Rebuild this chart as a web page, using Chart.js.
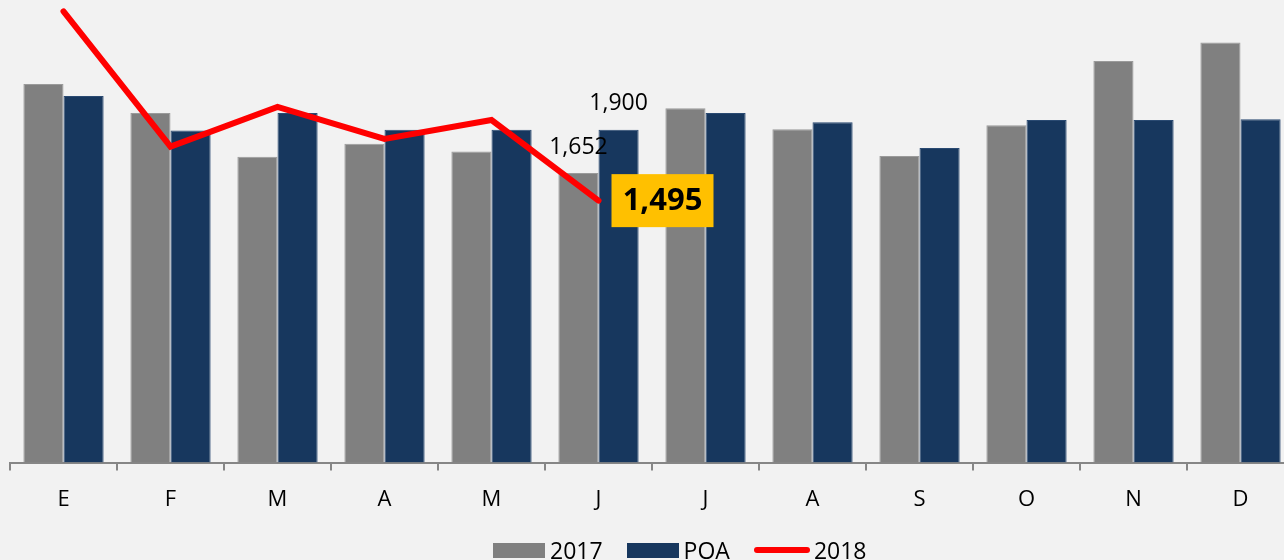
<!DOCTYPE html>
<html>
<head>
<meta charset="utf-8">
<script src="https://cdn.jsdelivr.net/npm/chart.js@4/dist/chart.umd.min.js"></script>
<style>
  html, body { margin: 0; padding: 0; background: #f2f2f2; overflow: hidden; }
  #wrap { position: relative; width: 1300px; height: 560px; }
  #leyenda {
    position: absolute; left: 493px; top: 534px;
    display: flex; align-items: center;
    font-family: "Open Sans", sans-serif; font-size: 23px; color: #000;
  }
  .caja { width: 52px; height: 15px; margin-right: 5px; }
  .linea { width: 56px; height: 6px; border-radius: 3px; background: #ff0000; margin-right: 4px; }
  .item { display: flex; align-items: center; margin-right: 24px; }
</style>
</head>
<body>
<div id="wrap">
  <canvas id="grafica" width="1300" height="560"></canvas>
  <div id="leyenda">
    <div class="item"><div class="caja" style="background:#808080"></div><span>2017</span></div>
    <div class="item"><div class="caja" style="background:#17375e"></div><span>POA</span></div>
    <div class="item"><div class="linea"></div><span>2018</span></div>
  </div>
</div>
<script>
const meses = ["E", "F", "M", "A", "M", "J", "J", "A", "S", "O", "N", "D"];
const ventas2017 = [2160, 1995, 1745, 1820, 1775, 1652, 2022, 1902, 1750, 1925, 2292, 2398];
const poa = [2092, 1895, 1995, 1900, 1900, 1900, 1995, 1942, 1796, 1955, 1955, 1960];
const ventas2018 = [2575, 1803, 2030, 1847, 1955, 1495];
const mesEtiqueta = 5; // junio

const fmt = v => v.toLocaleString("en-US");

// etiquetas de junio: sobre las barras y caja amarilla al final de la linea
const etiquetas = {
  id: "etiquetas",
  afterDatasetsDraw(chart) {
    const ctx = chart.ctx;
    ctx.save();
    ctx.textAlign = "center";
    ctx.textBaseline = "middle";
    ctx.fillStyle = "#000";
    ctx.font = "23px 'Open Sans', sans-serif";
    [0, 1].forEach(d => {
      const bar = chart.getDatasetMeta(d).data[mesEtiqueta];
      const valor = chart.data.datasets[d].data[mesEtiqueta];
      ctx.fillText(fmt(valor), bar.x, bar.y - 26);
    });

    const p = chart.getDatasetMeta(2).data[mesEtiqueta];
    const txt = fmt(ventas2018[mesEtiqueta]);
    ctx.font = "bold 31px 'Open Sans', sans-serif";
    const w = 102, h = 53;
    const x0 = p.x + 13;
    ctx.fillStyle = "#ffc000";
    ctx.fillRect(x0, p.y - h / 2, w, h);
    ctx.fillStyle = "#000";
    ctx.fillText(txt, x0 + w / 2, p.y + 1);
    ctx.restore();
  }
};

new Chart(document.getElementById("grafica"), {
  data: {
    labels: meses,
    datasets: [
      {
        type: "bar", label: "2017", data: ventas2017,
        backgroundColor: "#808080", borderColor: "#9a9a9a", borderWidth: 1,
        barPercentage: 1, categoryPercentage: 0.75, order: 2
      },
      {
        type: "bar", label: "POA", data: poa,
        backgroundColor: "#17375e", borderColor: "#2a4a72", borderWidth: 1,
        barPercentage: 1, categoryPercentage: 0.75, order: 2
      },
      {
        type: "line", label: "2018", data: ventas2018,
        borderColor: "#ff0000", borderWidth: 6, pointRadius: 0,
        borderCapStyle: "round", borderJoinStyle: "miter",
        tension: 0, clip: false, order: 1
      }
    ]
  },
  options: {
    responsive: false,
    animation: false,
    layout: { padding: { left: 10, right: 6, top: 0, bottom: 31 } },
    plugins: { legend: { display: false }, tooltip: { enabled: false } },
    scales: {
      x: {
        offset: true,
        grid: { display: true, drawOnChartArea: false, drawTicks: true, tickLength: 8, color: "#868686", lineWidth: 2, offset: true },
        border: { display: true, color: "#868686", width: 2 },
        ticks: { color: "#000", font: { family: "'Open Sans', sans-serif", size: 22 }, padding: 16, maxRotation: 0 }
      },
      y: {
        display: false,
        min: 0, max: 2640
      }
    }
  },
  plugins: [etiquetas]
});
</script>
</body>
</html>
